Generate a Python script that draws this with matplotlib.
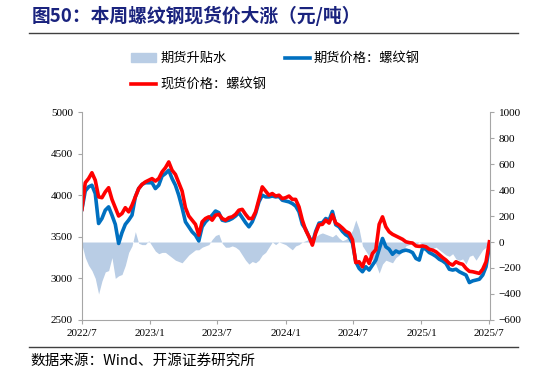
import numpy as np
import pandas as pd
import matplotlib
matplotlib.use('Agg')
import matplotlib.pyplot as plt
from matplotlib.patches import Patch
from matplotlib.lines import Line2D

plt.rcParams['font.family'] = ['Noto Sans CJK SC', 'DejaVu Sans']

# sampled every 9 days from 2022/7/1 to 2025/7/4
dates = pd.date_range('2022-07-01', periods=123, freq='9D')

spot = [3830, 4150, 4200, 4270, 4180, 3980, 3970, 4040, 4090, 3950,
        3850, 3750, 3780, 3850, 3800, 3880, 3980, 4080, 4130, 4160,
        4180, 4200, 4170, 4200, 4280, 4330, 4400, 4300, 4250, 4150,
        4050, 3850, 3750, 3700, 3650, 3520, 3680, 3720, 3740, 3700,
        3760, 3770, 3720, 3700, 3730, 3740, 3770, 3820, 3830, 3770,
        3720, 3720, 3800, 3950, 4100, 4050, 4000,
        4020, 3990, 4000, 3960, 3970, 3990, 3950, 3950, 3860, 3700,
        3580, 3500, 3400, 3545, 3645, 3650, 3700, 3665, 3765, 3665,
        3640, 3605, 3565, 3545, 3465, 3190, 3200, 3140, 3260, 3180,
        3300, 3345, 3650, 3740, 3620, 3560, 3530, 3510, 3490, 3470,
        3440, 3430, 3425, 3390, 3385, 3390, 3380, 3350, 3340, 3320,
        3285, 3250, 3220, 3180, 3160, 3200, 3180, 3170, 3120, 3085,
        3080, 3070, 3060, 3110, 3200, 3440]

futures = [3830, 4050, 4100, 4120, 4020, 3660, 3720, 3820, 3860, 3760,
           3650, 3420, 3550, 3650, 3700, 3760, 3980, 4080, 4130, 4150,
           4150, 4150, 4080, 4120, 4230, 4260, 4300, 4200, 4120, 4000,
           3850, 3680, 3620, 3560, 3520, 3450, 3620, 3680, 3720, 3760,
           3810, 3790, 3700, 3690, 3700, 3720, 3750, 3790, 3730, 3670,
           3620, 3680, 3780, 3920, 4000, 3980, 3980,
           3990, 3980, 3985, 3940, 3930, 3920, 3900, 3870, 3800, 3650,
           3590, 3500, 3425, 3565, 3665, 3670, 3720, 3700, 3805, 3645,
           3620, 3565, 3525, 3500, 3425, 3200, 3120, 3080, 3140, 3100,
           3160, 3220, 3350, 3480, 3380, 3350, 3290, 3330, 3310, 3330,
           3340, 3330, 3310, 3240, 3220, 3365, 3350, 3310, 3290, 3265,
           3230, 3210, 3180, 3110, 3100, 3110, 3080, 3060, 3040, 2950,
           2970, 2980, 2990, 3040, 3140, 3390]

basis = [-20, -120, -180, -220, -280, -400, -300, -230, -220, -120,
         -280, -260, -250, -180, -80, -30, 80, -10, -20, -20,
         10, -30, -70, -90, -80, -80, -100, -120, -140, -150,
         -160, -130, -100, -80, -60, -60, -40, -30, -20, 20,
         50, 60, -10, -40, -40, -30, -40, -60, -100, -140,
         -170, -150, -160, -140, -100, -80, -40,
         0, -20, 0, -10, -20, -40, -60, -30, -20, 0,
         10, 20, 30, 40, 60, 70, 60, 50, 40, 60,
         30, 10, 20, 50, 90, 170, 100, -30, -70, -110,
         -140, -170, -240, -170, -140, -150, -160, -120, -100, -70,
         -30, -20, -10, -20, 0, -20, -40, -40, -50, -40,
         -60, -80, -100, -110, -90, -130, -140, -130, -170, -110,
         -100, -140, -100, -60, -40, -20]

title = '图50：本周螺纹钢现货价大涨（元/吨）'
source = '数据来源：Wind、开源证券研究所'

c_spot = '#FF0000'
c_fut = '#0070C0'
c_basis = '#B9CDE5'

fig = plt.figure(figsize=(5.46, 3.76), dpi=100)
ax = fig.add_axes([0.150, 0.149, 0.747, 0.553])
ax2 = ax.twinx()
ax.set_zorder(ax2.get_zorder() + 1)
ax.patch.set_visible(False)

ax2.fill_between(dates, 0, basis, color=c_basis, lw=0)
ax.plot(dates, futures, color=c_fut, lw=2.6)
ax.plot(dates, spot, color=c_spot, lw=2.6)

ax.set_ylim(2500, 5000)
ax.set_yticks(np.arange(2500, 5001, 500))
ax2.set_ylim(-600, 1000)
ax2.set_yticks(np.arange(-600, 1001, 200))
ax.set_xlim(pd.Timestamp('2022-07-01'), pd.Timestamp('2025-07-04'))
ticks = pd.to_datetime(['2022-07-01', '2023-01-01', '2023-07-01', '2024-01-01',
                        '2024-07-01', '2025-01-01', '2025-07-01'])
ax.set_xticks(ticks)
ax.set_xticklabels([f'{d.year}/{d.month}' for d in ticks])

for a in (ax, ax2):
    a.spines['top'].set_visible(False)
    for s in ('left', 'right', 'bottom'):
        a.spines[s].set_color('#A6A6A6')
    a.tick_params(colors='#A6A6A6', labelcolor='black', length=3, width=0.8)
    for lab in a.get_xticklabels() + a.get_yticklabels():
        lab.set_family('Liberation Serif')
        lab.set_fontsize(8)
ax.spines['right'].set_visible(False)
ax2.spines['left'].set_visible(False)
ax2.spines['bottom'].set_visible(False)

handles = [Patch(color=c_basis, label='期货升贴水'),
           Line2D([], [], color=c_spot, lw=2.6, label='现货价格：螺纹钢'),
           Line2D([], [], color=c_fut, lw=2.6, label='期货价格：螺纹钢')]
fig.legend(handles=handles, ncol=2, loc='upper left',
           bbox_to_anchor=(131 / 546, 1 - 52 / 376), frameon=False,
           fontsize=9.5, handlelength=1.9, handleheight=0.6,
           handletextpad=0.3, columnspacing=1.4, labelspacing=1.05,
           borderpad=0, borderaxespad=0)

fig.text(32 / 546, 1 - 16 / 376, title, fontsize=13.5, fontweight='bold',
         color='#1A237E', va='center', ha='left')
fig.add_artist(Line2D([29 / 546, 518 / 546], [1 - 33 / 376, 1 - 33 / 376],
                      color='#404040', lw=1))
fig.add_artist(Line2D([29 / 546, 518 / 546], [1 - 347 / 376, 1 - 347 / 376],
                      color='#404040', lw=1))
fig.text(30 / 546, 1 - 361 / 376, source, fontsize=10.5, color='black',
         va='center', ha='left')

fig.savefig('out.png', dpi=100)
